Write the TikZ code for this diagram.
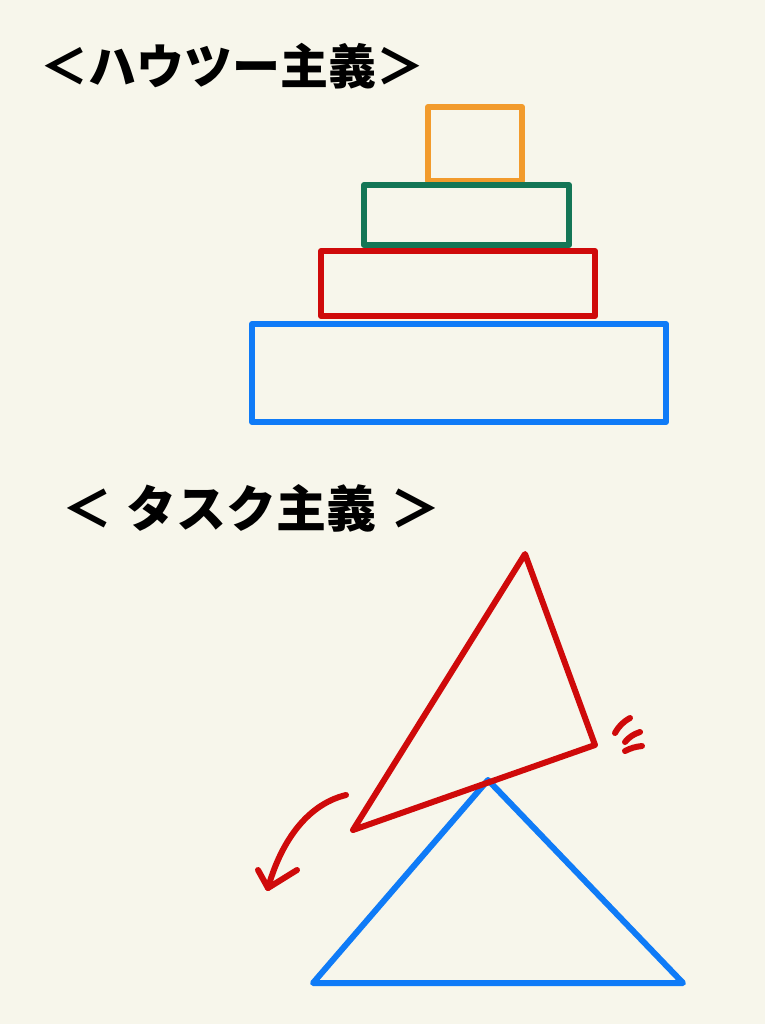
\documentclass[tikz,border=0pt]{standalone}
\usepackage{fontspec}
\newfontfamily\jpfont{Noto Sans CJK JP}
\definecolor{paper}{HTML}{F7F6EB}
\definecolor{stackorange}{HTML}{F29B2C}
\definecolor{stackgreen}{HTML}{147656}
\definecolor{stackred}{HTML}{CF0A0A}
\definecolor{stackblue}{HTML}{0F7BF7}
\tikzset{
  pen/.style={line width=6pt, line join=round, line cap=round},
  heading/.style={font=\jpfont\bfseries\fontsize{48}{50}\selectfont, inner sep=0pt}
}
\begin{document}
\begin{tikzpicture}[x=1pt, y=-1pt]
  % Hintergrund
  \fill[paper] (0,0) rectangle (765,1024);
  \useasboundingbox (0,0) rectangle (765,1024);
  % Ueberschriften
  \node[heading] (howto) at (232,66) {＜ハウツー主義＞};
  \node[heading, font=\jpfont\bfseries\fontsize{50}{52}\selectfont] (task) at (251,508) {＜\hspace{14pt}タスク主義\hspace{14pt}＞};
  % Stapel
  \draw[pen, stackorange] (428,107) rectangle (522,181);
  \draw[pen, stackgreen] (364,185) rectangle (569,245);
  \draw[pen, stackred] (321,251) rectangle (595,316);
  \draw[pen, stackblue] (252,324) rectangle (666,422);
  % Dreiecke
  \draw[pen, stackblue] (313,983) -- (488,780) -- (683,983) -- cycle;
  \draw[pen, stackred] (525,554) -- (595,745) -- (353,830) -- cycle;
  % Pfeil
  \draw[pen, stackred] (346,795) .. controls (305,805) and (280,845) .. (268,888);
  \draw[pen, stackred] (258,870) -- (268,888) -- (297,870);
  % Wackeln
  \draw[pen, stackred] (615,733) to[bend left=15] (630,718);
  \draw[pen, stackred] (625,742) to[bend left=15] (640,732);
  \draw[pen, stackred] (625,751) to[bend left=10] (642,746);
\end{tikzpicture}
\end{document}
